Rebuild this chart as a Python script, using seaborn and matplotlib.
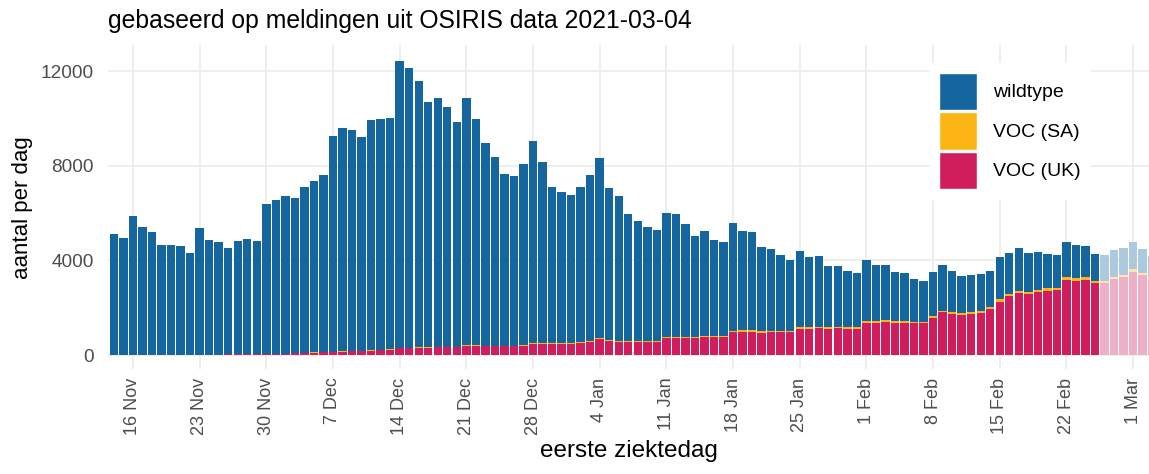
import numpy as np
import pandas as pd
import seaborn as sns
import matplotlib.pyplot as plt
from matplotlib.patches import Patch

# eerste ziektedag: 14 nov 2020 t/m 3 mrt 2021 (laatste 6 dagen nog onvolledig)
dagen = pd.date_range('2020-11-14', '2021-03-03', freq='D')
n_voorlopig = 6

# totaal aantal per dag (hoogte van de stapel)
totaal = [5120, 4960, 5880, 5430, 5180, 4670, 4670, 4610, 4300, 5360, 4850, 4780, 4510, 4810, 4890, 4810, 6370,
          6560, 6710, 6630, 7120, 7370, 7600, 9240, 9600, 9530, 9200, 9920, 9960, 10020, 12430, 12140, 11600,
          10700, 10850, 10470, 9830, 10880, 9960, 8950, 8350, 7670, 7570, 8090, 9030, 8160, 7110, 6880,
          6750, 7080, 7610, 8310, 7040, 6700, 5950, 5650, 5430, 5290, 6010, 5940, 5540, 5020, 5260, 4860, 4770,
          5600, 5260, 5190, 4570, 4480, 4220, 4000, 4390, 4130, 4170, 3780, 3760, 3550, 3450,
          4000, 3820, 3810, 3510, 3450, 3210, 3120, 3500, 3820, 3550, 3330, 3380, 3410, 3550, 4150, 4330, 4510,
          4330, 4340, 4290, 4230, 4790, 4640, 4600, 4270, 4230, 4430, 4530,
          4770, 4480, 4190]

voc_uk = [10, 10, 10, 10, 10, 15, 15, 15, 20, 20, 20, 20, 25, 25, 30, 30, 40,
          50, 60, 70, 80, 100, 110, 130, 140, 150, 160, 180, 200, 220, 280, 290, 300, 300, 320, 330, 330,
          400, 380, 370, 370, 370, 370, 400, 480, 470, 470, 470,
          470, 510, 570, 690, 600, 560, 540, 535, 535, 565, 705, 733, 733, 733, 760, 760, 760,
          975, 990, 990, 950, 975, 975, 975, 1115, 1115, 1140, 1115, 1140, 1115, 1115,
          1370, 1370, 1410, 1370, 1370, 1340, 1340, 1550, 1800, 1730, 1690, 1730, 1790, 1930,
          2260, 2500, 2610, 2570, 2650, 2720, 2750, 3170, 3140, 3170, 3030, 3030, 3200, 3290,
          3530, 3370, 3170]

voc_sa = [0, 0, 0, 0, 0, 0, 0, 0, 0, 0, 0, 0, 0, 0, 0, 0, 5,
          5, 5, 5, 5, 10, 10, 10, 10, 15, 15, 15, 20, 20, 20, 20, 20, 25, 25, 25, 25,
          30, 30, 30, 30, 30, 30, 30, 30, 30, 30, 30,
          30, 30, 35, 40, 40, 40, 40, 40, 40, 40, 45, 45, 45, 45, 45, 50, 50,
          50, 50, 50, 50, 50, 50, 50, 55, 55, 55, 55, 55, 55, 55,
          60, 60, 60, 60, 60, 60, 60, 80, 80, 80, 80, 80, 80, 80,
          100, 100, 100, 100, 100, 100, 100, 110, 110, 110, 110, 110, 110, 110,
          110, 110, 110]

tick_dagen = pd.date_range('2020-11-16', '2021-03-01', freq='7D')
tick_labels = ['16 Nov', '23 Nov', '30 Nov', '7 Dec', '14 Dec', '21 Dec', '28 Dec', '4 Jan',
               '11 Jan', '18 Jan', '25 Jan', '1 Feb', '8 Feb', '15 Feb', '22 Feb', '1 Mar']

blauw = '#15659f'
geel = '#fdb515'
roze = '#cf1d5d'


def licht(kleur, f=0.35):
    # mengen met wit voor de voorlopige dagen
    rgb = np.array(plt.matplotlib.colors.to_rgb(kleur))
    return tuple(rgb * f + (1 - f))


df = pd.DataFrame({'dag': np.arange(len(dagen)), 'totaal': totaal, 'uk': voc_uk, 'sa': voc_sa})
df['uk_sa'] = df.uk + df.sa

sns.set_theme(style='whitegrid')
plt.rcParams['font.family'] = ['Liberation Sans', 'DejaVu Sans']
plt.rcParams['grid.color'] = '#ebebeb'
plt.rcParams['grid.linewidth'] = 1.2

fig = plt.figure(figsize=(11.49, 4.74), dpi=100)
ax = fig.add_axes([0.094, 0.221, 0.906, 0.684])

lagen = [('totaal', blauw), ('uk_sa', geel), ('uk', roze)]
for kolom, kleur in lagen:
    sns.barplot(data=df, x='dag', y=kolom, color=kleur, width=0.88, linewidth=0,
                native_scale=True, saturation=1, ax=ax)

# laatste dagen lichter
for (kolom, kleur), cont in zip(lagen, ax.containers):
    for p in list(cont)[-n_voorlopig:]:
        p.set_facecolor(licht(kleur))

ax.set_xlim(-0.62, len(dagen) - 1.33)
ax.set_ylim(-600, 13100)
ax.set_yticks([0, 4000, 8000, 12000])
ax.set_yticklabels(['0', '4000', '8000', '12000'])
tick_pos = [(d - dagen[0]).days for d in tick_dagen]
ax.set_xticks(tick_pos)
ax.set_xticklabels(tick_labels, rotation=90)
ax.tick_params(axis='both', labelsize=13, colors='#4d4d4d', length=0)
ax.tick_params(axis='y', labelsize=13.7, pad=10)
ax.tick_params(axis='x', pad=6)
ax.grid(True, axis='both')
ax.set_axisbelow(True)
for s in ax.spines.values():
    s.set_visible(False)

ax.set_xlabel('eerste ziektedag', fontsize=17.5, color='black', labelpad=4)
ax.set_ylabel('aantal per dag', fontsize=16, color='black', labelpad=6)
ax.set_title('gebaseerd op meldingen uit OSIRIS data 2021-03-04', loc='left', fontsize=17.8,
             pad=12, color='black')

handles = [Patch(facecolor=blauw, label='wildtype'),
           Patch(facecolor=geel, label='VOC (SA)'),
           Patch(facecolor=roze, label='VOC (UK)')]
leg = ax.legend(handles=handles, loc='upper left', bbox_to_anchor=(0.78, 0.975), fontsize=14,
                handlelength=1.95, handleheight=2.6, labelspacing=0.1, handletextpad=0.8,
                frameon=True, facecolor='white', edgecolor='white', framealpha=1, borderpad=0.5,
                labelcolor='black')

fig.savefig('out.png', dpi=100)
